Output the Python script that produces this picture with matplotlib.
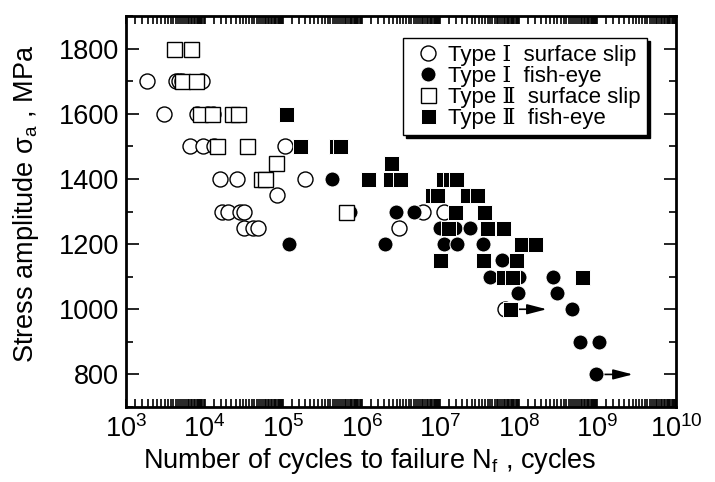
import numpy as np
import matplotlib
matplotlib.use("Agg")
import matplotlib.pyplot as plt
from matplotlib.ticker import FixedLocator, NullFormatter

plt.rcParams['font.family'] = ['Liberation Sans', 'DejaVu Serif', 'Noto Sans CJK JP']
plt.rcParams['mathtext.fontset'] = 'custom'
plt.rcParams['mathtext.rm'] = 'Liberation Sans'
plt.rcParams['mathtext.it'] = 'Liberation Sans:italic'

# ---- data (Nf in cycles, stress in MPa) ----
type1_slip_N = [1.85e3, 4.33e3, 4.72e3, 5.16e3, 9.27e3,
                3.04e3, 8.0e3, 1.10e4, 1.28e4,
                6.5e3, 9.55e3, 1.32e4, 1.05e5,
                1.57e4, 2.58e4, 1.89e5,
                8.3e4,
                1.66e4, 1.99e4, 2.82e4, 3.17e4, 6.0e6, 1.11e7,
                3.17e4, 4.13e4, 4.78e4, 2.97e6,
                6.64e7]
type1_slip_S = [1700, 1700, 1700, 1700, 1700,
                1600, 1600, 1600, 1600,
                1500, 1500, 1500, 1500,
                1400, 1400, 1400,
                1350,
                1300, 1300, 1300, 1300, 1300, 1300,
                1250, 1250, 1250, 1250,
                1000]

type1_fish_N = [4.18e5,
                7.08e5, 2.72e6, 4.61e6,
                9.89e6, 1.53e7, 2.38e7,
                1.19e5, 1.97e6, 1.11e7, 1.63e7, 3.48e7,
                6.08e7,
                4.28e7, 1.0e8, 2.71e8,
                9.7e7, 3.04e8,
                4.72e8,
                5.97e8, 1.04e9,
                9.55e8]
type1_fish_S = [1400,
                1300, 1300, 1300,
                1250, 1250, 1250,
                1200, 1200, 1200, 1200, 1200,
                1150,
                1100, 1100, 1100,
                1050, 1050,
                1000,
                900, 900,
                800]

type2_slip_N = [4.08e3, 6.71e3,
                5.16e3, 7.78e3,
                8.74e3, 1.24e4, 2.23e4, 2.66e4,
                1.44e4, 3.46e4,
                8.1e4,
                5.22e4, 5.87e4,
                6.3e5]
type2_slip_S = [1800, 1800,
                1700, 1700,
                1600, 1600, 1600, 1600,
                1500, 1500,
                1450,
                1400, 1400,
                1300]

type2_fish_N = [1.09e5,
                1.64e5, 4.7e5, 5.28e5,
                2.35e6,
                1.2e6, 2.28e6, 3.06e6, 1.08e7, 1.32e7, 1.58e7,
                7.82e6, 9.06e6, 2.18e7, 2.92e7,
                1.53e7, 3.59e7,
                1.25e7, 3.92e7, 6.25e7,
                1.06e8, 1.6e8,
                9.89e6, 3.48e7, 9.16e7,
                6.25e7, 8.15e7, 6.34e8,
                7.67e7]
type2_fish_S = [1600,
                1500, 1500, 1500,
                1450,
                1400, 1400, 1400, 1400, 1400, 1400,
                1350, 1350, 1350, 1350,
                1300, 1300,
                1250, 1250, 1250,
                1200, 1200,
                1150, 1150, 1150,
                1100, 1100, 1100,
                1000]

# run-outs (no failure) marked with arrows
runout_N = [7.67e7, 9.55e8]
runout_S = [1000, 800]

fig = plt.figure(figsize=(7.15, 4.82), dpi=100)
ax = fig.add_axes([126 / 715, 1 - 407 / 482, 550 / 715, 391 / 482])

ms = 10.8
for n, s in zip(runout_N, runout_S):
    ax.annotate('', xy=(n * 2.95, s), xytext=(n, s),
                arrowprops=dict(arrowstyle='-|>,head_length=0.85,head_width=0.22',
                                color='k', lw=1.2, shrinkA=0, shrinkB=0,
                                mutation_scale=14),
                zorder=1)

ax.plot(type1_slip_N, type1_slip_S, 'o', ms=ms, mfc='white', mec='k', mew=1.0,
        ls='none', zorder=3, label='Type Ⅰ  surface slip')
ax.plot(type1_fish_N, type1_fish_S, 'o', ms=ms, mfc='k', mec='white', mew=0.7,
        ls='none', zorder=3, label='Type Ⅰ  fish-eye')
ax.plot(type2_slip_N, type2_slip_S, 's', ms=ms, mfc='white', mec='k', mew=1.0,
        ls='none', zorder=4, label='Type Ⅱ  surface slip')
ax.plot(type2_fish_N, type2_fish_S, 's', ms=ms, mfc='k', mec='white', mew=0.7,
        ls='none', zorder=4, label='Type Ⅱ  fish-eye')

ax.set_xscale('log')
ax.set_xlim(1e3, 1e10)
ax.set_ylim(700, 1900)

decades = np.arange(3, 11)
ax.xaxis.set_major_locator(FixedLocator(10.0 ** decades))
ax.set_xticklabels([r'$\mathregular{10^{%d}}$' % d for d in decades])
minor = [10.0 ** d * (1 + 0.3 * j) for d in decades[:-1] for j in range(1, 30)]
ax.xaxis.set_minor_locator(FixedLocator(minor))
ax.xaxis.set_minor_formatter(NullFormatter())

ax.set_yticks(np.arange(800, 1801, 200))
ax.yaxis.set_minor_locator(FixedLocator(np.arange(700, 1901, 100)))

ax.tick_params(which='both', direction='in', top=True, right=True, labelsize=19.5, width=1.2)
ax.tick_params(axis='y', which='major', length=9, pad=5)
ax.tick_params(axis='y', which='minor', length=5)
ax.tick_params(axis='x', which='both', length=6, pad=6)
for sp in ax.spines.values():
    sp.set_linewidth(2)

ax.set_xlabel(r'Number of cycles to failure N$_{\mathregular{f}}$ , cycles', fontsize=19.5)
ax.set_ylabel(r'Stress amplitude $\mathregular{\sigma_a}$ , MPa', fontsize=19.5)
ax.xaxis.set_label_coords(0.444, -0.1)
ax.yaxis.set_label_coords(-0.155, 0.52)

leg = ax.legend(loc='upper left', bbox_to_anchor=(0.504, 0.944), fontsize=16,
                frameon=True, fancybox=False, shadow={'color': 'k', 'alpha': 1},
                borderpad=0.3, labelspacing=0.0, handlelength=1.6,
                handletextpad=0.1, borderaxespad=0, numpoints=1)
leg.get_frame().set_edgecolor('k')
leg.get_frame().set_linewidth(1.0)

fig.savefig('out.png', dpi=100)
